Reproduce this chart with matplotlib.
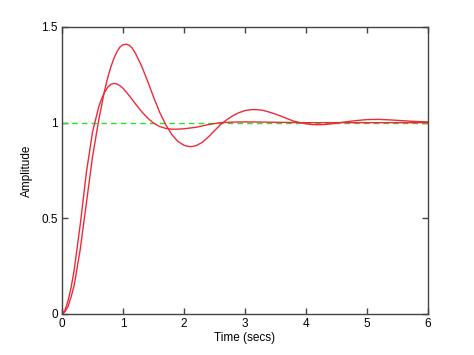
import numpy as np
import matplotlib
matplotlib.use('Agg')
import matplotlib.pyplot as plt

# step responses
t_a = [0, 0.05, 0.1, 0.15, 0.2, 0.3, 0.4, 0.5, 0.6, 0.7, 0.75, 0.8, 0.85, 0.9,
       0.95, 1.0, 1.05, 1.1, 1.15, 1.2, 1.3, 1.4, 1.5, 1.6, 1.7, 1.8, 1.9, 2.0,
       2.05, 2.1, 2.15, 2.2, 2.3, 2.4, 2.5, 2.6, 2.7, 2.8, 2.9, 3.0, 3.1, 3.2,
       3.3, 3.4, 3.5, 3.6, 3.7, 3.8, 3.9, 4.0, 4.1, 4.2, 4.3, 4.4, 4.5, 4.6,
       4.8, 5.0, 5.2, 5.4, 5.6, 5.8, 6.0]
y_a = [0, 0.012, 0.04, 0.09, 0.15, 0.34, 0.58, 0.82, 1.01, 1.17, 1.235, 1.29,
       1.335, 1.37, 1.395, 1.407, 1.41, 1.405, 1.39, 1.365, 1.30, 1.22, 1.135,
       1.055, 0.99, 0.938, 0.902, 0.882, 0.877, 0.875, 0.876, 0.88, 0.897, 0.925,
       0.958, 0.99, 1.015, 1.036, 1.052, 1.063, 1.068, 1.068, 1.064, 1.055,
       1.045, 1.033, 1.02, 1.008, 1.0, 0.994, 0.99, 0.989, 0.99, 0.993, 0.997,
       1.002, 1.01, 1.016, 1.017, 1.014, 1.01, 1.006, 1.004]

t_b = [0, 0.05, 0.1, 0.15, 0.2, 0.3, 0.4, 0.5, 0.6, 0.65, 0.7, 0.75, 0.8, 0.85,
       0.9, 0.95, 1.0, 1.1, 1.2, 1.3, 1.4, 1.5, 1.6, 1.7, 1.8, 1.9, 2.0, 2.2,
       2.4, 2.6, 2.8, 3.0, 3.5, 4.0, 6.0]
y_b = [0, 0.02, 0.07, 0.14, 0.23, 0.47, 0.74, 0.95, 1.08, 1.125, 1.16, 1.185,
       1.2, 1.205, 1.202, 1.193, 1.18, 1.142, 1.10, 1.06, 1.025, 0.998, 0.98,
       0.97, 0.966, 0.966, 0.968, 0.976, 0.99, 1.0, 1.003, 1.004, 1.002, 1.0,
       1.0]

xticks = [0, 1, 2, 3, 4, 5, 6]
yticks = [0, 0.5, 1, 1.5]
ytick_labels = ['0', '0.5', '1', '1.5']

plt.rcParams['font.family'] = ['Liberation Sans', 'DejaVu Sans']

fig = plt.figure(figsize=(4.74, 3.55), dpi=100)
ax = fig.add_axes([0.1308, 0.1155, 0.772, 0.8085])

ax.plot([0, 6], [1, 1], color='#22e622', lw=1, ls=(0, (4, 3)))
ax.plot(t_a, y_a, color='#ee2a3a', lw=1)
ax.plot(t_b, y_b, color='#ee2a3a', lw=1)

ax.set_xlim(0, 6)
ax.set_ylim(0, 1.5)
ax.set_xticks(xticks)
ax.set_yticks(yticks)
ax.set_yticklabels(ytick_labels)
ax.tick_params(direction='in', length=4, width=1, color='#444444',
               top=True, right=True, labelsize=8.5, pad=3)
for s in ax.spines.values():
    s.set_color('#444444')
    s.set_linewidth(1)

ax.set_xlabel('Time (secs)', fontsize=8.5, labelpad=1)
ax.set_ylabel('Amplitude', fontsize=8.5, labelpad=6)

fig.savefig('out.png', dpi=100)
